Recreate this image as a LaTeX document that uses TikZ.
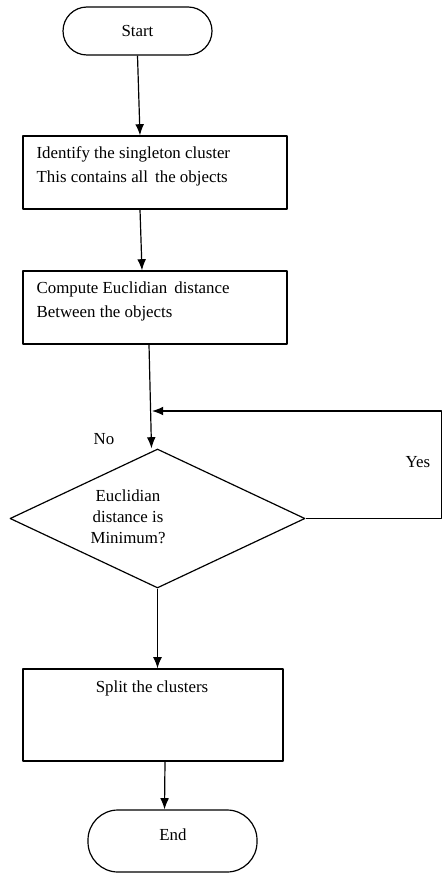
\documentclass[tikz,border=0pt]{standalone}
\usepackage{fontspec}
\setmainfont{Liberation Serif}
\usetikzlibrary{shapes.geometric,arrows.meta}
\tikzset{
  term/.style={draw, rounded corners=0.6cm, minimum width=3.725cm, minimum height=1.2cm, inner sep=0pt},
  procbox/.style={draw, minimum width=6.6cm, minimum height=1.825cm, inner sep=0pt},
  boxtext/.style={anchor=west, align=left, inner sep=0pt, font=\fontsize{12}{17}\selectfont},
  decide/.style={draw, diamond, minimum width=7.375cm, minimum height=3.475cm, inner sep=0pt}
}
\begin{document}
\begin{tikzpicture}[font=\fontsize{12}{15}\selectfont, line width=0.85pt, >={Latex[length=2.8mm,width=2.2mm]}, line join=round]
  \useasboundingbox (0,0) rectangle (11.1,-21.825);
  % nodes
  \node[term] (st) at (3.4375,-0.775) {Start};
  \node[procbox] (b1) at (3.875,-4.3125) {};
  \node[boxtext] (t1) at (0.9,-4.15) {Identify the singleton cluster\\This contains all\, the objects};
  \node[procbox] (b2) at (3.875,-7.6875) {};
  \node[boxtext] (t2) at (0.9,-7.525) {Compute Euclidian\, distance\\Between the objects};
  \node[decide] (dm) at (3.9375,-12.9625) {};
  \node[align=center, inner sep=0pt] (dt) at (3.2,-12.925) {Euclidian\\distance is\\Minimum?};
  \node[procbox, minimum width=6.5cm, minimum height=2.3cm] (b3) at (3.825,-17.875) {};
  \node[inner sep=0pt] (t3) at (3.8,-17.2) {Split the clusters};
  \node[term, minimum width=4.225cm, minimum height=1.55cm, rounded corners=0.75cm] (en) at (4.3125,-21.025) {};
  \node[inner sep=0pt] (te) at (4.325,-20.875) {End};
  \node (no) at (2.6,-10.975) {No};
  \node (yes) at (10.45,-11.55) {Yes};
  \coordinate (rt) at (11.04,-10.275);
  \coordinate (mg) at (3.8,-10.275);
  % connectors
  \draw[->] (st.south) -- ([xshift=-0.375cm]b1.north);
  \draw[->] ([xshift=-0.375cm]b1.south) -- ([xshift=-0.325cm]b2.north);
  \draw[->] ([xshift=-0.15cm]b2.south) -- ([xshift=-0.15cm]dm.north);
  \draw[->] (dm.east) -- (dm.east -| rt) -- (rt) -- (mg);
  \draw[->] (dm.south) -- (dm.south |- b3.north);
  \draw[->] ([xshift=0.3cm]b3.south) -- ([xshift=-0.2cm]en.north);
\end{tikzpicture}
\end{document}
